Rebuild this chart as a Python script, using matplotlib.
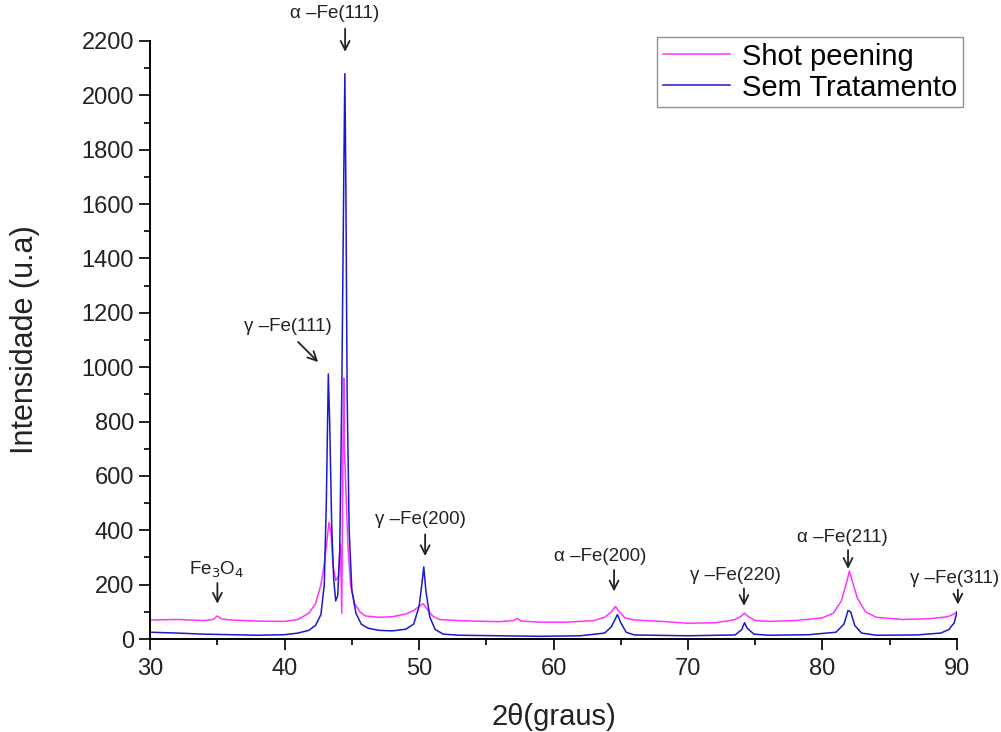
import matplotlib
matplotlib.use("Agg")
import matplotlib.pyplot as plt
from matplotlib.ticker import MultipleLocator

plt.rcParams['font.family'] = ['Liberation Sans', 'DejaVu Sans']

# 2theta / intensity
shot_x = [30, 32, 34, 34.7, 35.0, 35.3, 36, 38, 40, 41, 41.8, 42.3, 42.7, 42.9, 43.1, 43.3, 43.45,
          43.6, 43.8, 44.0, 44.15, 44.25, 44.32, 44.4, 44.45, 44.55, 44.7, 44.9, 45.2, 45.6, 46,
          47, 48, 49, 49.6, 50.0, 50.3, 50.6, 51.0, 51.5, 52, 54, 56, 57.0, 57.3, 57.6, 59, 61,
          63, 63.8, 64.3, 64.6, 64.9, 65.3, 66, 68, 70, 72, 73.4, 73.9, 74.2, 74.5, 75.0, 76,
          78, 80, 80.8, 81.4, 81.8, 82.0, 82.2, 82.6, 83.2, 84, 86, 88, 89.3, 89.7, 90]
shot_y = [70, 72, 68, 72, 85, 74, 70, 66, 65, 72, 95, 130, 200, 260, 340, 430, 390,
          270, 215, 230, 350, 95, 600, 960, 700, 560, 350, 200, 130, 100, 85,
          80, 82, 92, 105, 120, 130, 110, 85, 72, 70, 66, 64, 68, 76, 66, 62, 62,
          68, 80, 100, 120, 100, 78, 70, 65, 58, 60, 70, 82, 95, 82, 68, 65,
          68, 78, 95, 140, 210, 250, 215, 150, 100, 80, 72, 75, 82, 90, 100]

sem_x = [30, 32, 34, 36, 38, 40, 41, 41.8, 42.3, 42.7, 42.95, 43.1, 43.25, 43.35, 43.5, 43.65,
         43.8, 43.95, 44.1, 44.25, 44.4, 44.48, 44.55, 44.65, 44.8, 45.0, 45.3, 45.7, 46.2, 47,
         48, 49, 49.6, 50.0, 50.2, 50.35, 50.5, 50.8, 51.2, 51.8, 53, 56, 59, 62, 63.8, 64.3,
         64.6, 64.75, 65.0, 65.4, 66, 70, 73.5, 74.0, 74.2, 74.4, 74.9, 76, 79, 81.0, 81.6,
         81.9, 82.1, 82.4, 82.9, 84, 87, 88.8, 89.4, 89.8, 90]
sem_y = [25, 22, 18, 16, 14, 16, 22, 32, 50, 90, 200, 500, 975, 800, 420, 220,
         140, 160, 330, 900, 1700, 2080, 1700, 900, 400, 180, 95, 55, 40, 32,
         30, 36, 55, 120, 200, 265, 180, 80, 35, 18, 14, 12, 10, 12, 22, 45,
         75, 90, 60, 25, 15, 12, 15, 35, 60, 40, 18, 14, 16, 25, 55,
         105, 100, 50, 22, 14, 15, 22, 35, 60, 100]

# peak labels: text position, arrow tail, arrow tip
peak_labels = ['α –Fe(111)', 'γ –Fe(111)', r'Fe$_3$O$_4$', 'γ –Fe(200)',
               'α –Fe(200)', 'γ –Fe(220)', 'α –Fe(211)', 'γ –Fe(311)']
label_xy = [(43.75, 2300), (40.26, 1150), (34.98, 254), (50.07, 438),
            (63.46, 305), (73.5, 232), (81.5, 372), (89.85, 224)]
arrow_tail = [(44.5, 2245), (41.0, 1093), (35.0, 206), (50.45, 385),
              (64.5, 254), (74.16, 186), (81.9, 327), (90.07, 182)]
arrow_tip = [(44.5, 2160), (42.49, 1019), (35.0, 130), (50.45, 305),
             (64.5, 175), (74.16, 122), (81.9, 258), (90.07, 127)]

fig = plt.figure(figsize=(10.01, 7.32), dpi=100)
ax = fig.add_axes([0.150, 0.127, 0.806, 0.817])

ax.plot(shot_x, shot_y, color='#ff33ff', lw=1.1, label='Shot peening')
ax.plot(sem_x, sem_y, color='#1a1acc', lw=1.1, label='Sem Tratamento')

ax.set_xlim(30, 90)
ax.set_ylim(0, 2200)
ax.xaxis.set_major_locator(MultipleLocator(10))
ax.xaxis.set_minor_locator(MultipleLocator(5))
ax.yaxis.set_major_locator(MultipleLocator(200))
ax.yaxis.set_minor_locator(MultipleLocator(100))

ax.spines['top'].set_visible(False)
ax.spines['right'].set_visible(False)
for s in ['left', 'bottom']:
    ax.spines[s].set_linewidth(1.4)
ax.tick_params(which='major', direction='out', length=8, width=1.4, labelsize=17, colors='#222222')
ax.tick_params(which='minor', direction='out', length=4, width=1.4, colors='#222222')
ax.tick_params(axis='x', which='major', pad=6)

ax.set_xlabel('2θ(graus)', fontsize=21, labelpad=16, color='#222222')
ax.set_ylabel('Intensidade (u.a)', fontsize=22, labelpad=30, color='#222222')

with plt.rc_context({'mathtext.fontset': 'custom', 'mathtext.rm': 'Liberation Sans'}):
    for lab, (tx, ty), tail, tip in zip(peak_labels, label_xy, arrow_tail, arrow_tip):
        ax.text(tx, ty, lab, fontsize=13.5, ha='center', va='center', clip_on=False,
                color='#222222')
        ax.annotate('', xy=tip, xytext=tail, annotation_clip=False,
                    arrowprops=dict(arrowstyle='->', lw=1.3, color='#222222',
                                    shrinkA=0, shrinkB=0, mutation_scale=16))

leg = ax.legend(loc='upper right', bbox_to_anchor=(1.007, 1.007), fontsize=21, fancybox=False,
                handlelength=2.3, borderpad=0.2, labelspacing=0.1, handletextpad=0.4,
                borderaxespad=0)
leg.get_frame().set_edgecolor('#777777')
leg.get_frame().set_linewidth(1.0)

fig.savefig('out.png', dpi=100)
